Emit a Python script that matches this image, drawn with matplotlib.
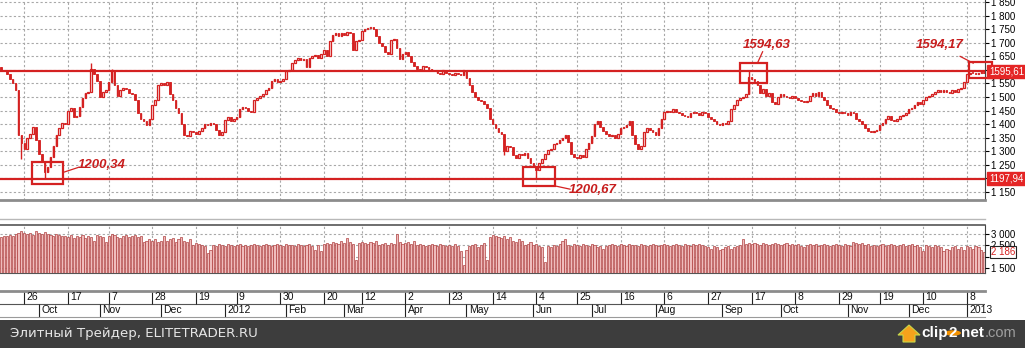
import matplotlib
matplotlib.use("Agg")
import matplotlib.pyplot as plt
import matplotlib.transforms as mtransforms
from matplotlib.patches import Rectangle, Circle, Polygon
import numpy as np
import pandas as pd

W, H = 1025, 348

# MICEX index, daily, 14.09.2011 - 16.01.2013
closes = [
    1600, 1595, 1585, 1565, 1550, 1525, 1360, 1330,
    1310, 1350, 1365, 1390, 1340, 1290, 1260, 1225, 1240, 1280, 1320, 1360, 1385, 1405, 1400,
    1450, 1460, 1425, 1430, 1465, 1495, 1515, 1520, 1605, 1585, 1560, 1500, 1520, 1525, 1555,
    1595, 1545, 1505, 1525, 1535, 1530, 1515, 1510, 1490, 1440, 1420, 1410, 1395, 1420,
    1470, 1490, 1545, 1550, 1545, 1555, 1510, 1490, 1460, 1440, 1400, 1360, 1355, 1375, 1370,
    1365, 1375, 1385, 1400, 1395, 1405, 1400, 1380, 1360, 1370, 1415, 1425, 1410, 1420,
    1425, 1455, 1465, 1460, 1450, 1445, 1490, 1495, 1505, 1510, 1525, 1535, 1560, 1565, 1555,
    1560, 1565, 1595, 1600, 1625, 1635, 1645, 1635, 1640, 1610, 1645, 1650, 1655, 1645, 1660,
    1675, 1650, 1705, 1730, 1735, 1725, 1735, 1730, 1740, 1735, 1675, 1705, 1710,
    1745, 1750, 1755, 1760, 1750, 1725, 1700, 1690, 1665, 1660, 1710, 1715, 1680, 1640, 1660,
    1665, 1650, 1630, 1615, 1605, 1600, 1615, 1610, 1605, 1600, 1595, 1590, 1585, 1600, 1590,
    1585, 1580, 1590, 1585, 1580, 1600, 1570, 1545, 1520, 1500, 1490, 1485, 1475, 1460, 1420,
    1400, 1385, 1370, 1365, 1300, 1320, 1315, 1285, 1275, 1290, 1285, 1295, 1275, 1255, 1240,
    1230, 1255, 1270, 1290, 1305, 1310, 1325, 1330, 1340, 1350, 1360, 1335, 1290, 1280,
    1275, 1285, 1280, 1310, 1330, 1355, 1400, 1410, 1390, 1375, 1365, 1355, 1360, 1350, 1365,
    1385, 1390, 1395, 1410, 1360, 1325, 1310, 1320, 1370, 1385, 1380, 1370, 1360, 1385, 1420,
    1445, 1450, 1445, 1455, 1445, 1440, 1435, 1430, 1425, 1440, 1445, 1440, 1435, 1445, 1440,
    1425, 1420, 1410, 1400, 1395, 1405, 1400, 1410, 1455, 1470, 1490, 1495, 1500, 1510, 1575,
    1565, 1560, 1545, 1515, 1530, 1505, 1515, 1480, 1475, 1500, 1510, 1505, 1500, 1495, 1505,
    1495, 1490, 1485, 1480, 1485, 1505, 1515, 1505, 1520, 1500, 1490, 1470, 1460, 1455, 1445,
    1440, 1445, 1440, 1435, 1445, 1440, 1420, 1410, 1400, 1385, 1375, 1370, 1375, 1380,
    1395, 1405, 1420, 1430, 1415, 1410, 1420, 1430, 1435, 1440, 1455, 1460, 1470, 1480, 1475,
    1490, 1500, 1505, 1510, 1520, 1525, 1520, 1525, 1520, 1515, 1525, 1520, 1530, 1535, 1555,
    1585, 1590, 1588, 1586, 1590, 1592, 1590,
]
first_open = 1612
spike_lows = {7: 1270, 15: 1200.34, 184: 1200.67, 173: 1285}
spike_highs = {31: 1625, 38: 1605, 257: 1594.63, 337: 1594.17}

volumes = [
    2850, 2900, 2880, 2950, 2900, 3000, 3050, 3100,
    3050, 3000, 3050, 2950, 3100, 3050, 3000, 3080, 3000, 2950, 2900, 2980, 2950, 2900, 2880,
    2850, 2950, 2800, 2900, 2850, 2950, 2800, 2900, 2850, 2700, 2950, 2900, 2850, 2650, 2900,
    3000, 2950, 2850, 2800, 2900, 2950, 2850, 2900, 2950, 2850, 2900, 2650, 2700, 2750,
    2700, 2750, 2650, 2700, 2900, 2700, 2750, 2800, 2650, 2750, 2850, 2700, 2650, 2750, 2500,
    2600, 2550, 2500, 2450, 2150, 2300, 2500, 2450, 2550, 2500, 2450, 2550, 2500, 2450,
    2500, 2550, 2450, 2500, 2450, 2500, 2550, 2500, 2450, 2500, 2550, 2500, 2450, 2500, 2550,
    2500, 2450, 2550, 2500, 2500, 2450, 2550, 2500, 2450, 2500, 2550, 2450, 2300, 2500, 2250,
    2550, 2600, 2550, 2650, 2600, 2550, 2700, 2600, 2800, 2650, 2550, 1850, 2600,
    2650, 2600, 2550, 2650, 2600, 2700, 2500, 2550, 2600, 2500, 2600, 2550, 3000, 2650, 2550,
    2600, 2650, 2550, 2700, 2500, 2550, 2500, 2450, 2500, 2550, 2500, 2450, 2550, 2500, 2450,
    2500, 2450, 2550, 2450, 2250, 1650, 2300, 2450, 2500, 2550, 2400, 2500, 2600, 1850, 2850,
    2950, 2900, 2850, 2800, 2900, 2750, 2850, 2700, 2650, 2750, 2700, 2500, 2550, 2650, 2500,
    2550, 2450, 2400, 1750, 2450, 2400, 2500, 2450, 2550, 2700, 2750, 2500, 2450, 2550,
    2500, 2450, 2550, 2500, 2450, 2550, 2500, 2400, 2450, 2350, 2450, 2500, 2550, 2500, 2450,
    2550, 2500, 2450, 2550, 2500, 2500, 2450, 2550, 2500, 2450, 2500, 2550, 2500, 2450, 2500,
    2550, 2500, 2450, 2500, 2550, 2500, 2450, 2550, 2500, 2450, 2550, 2500, 2550, 2500, 2450,
    2400, 2350, 2450, 2400, 2300, 2350, 2400, 2450, 2350, 2400, 2450, 2500, 2750, 2550, 2600,
    2550, 2600, 2550, 2500, 2600, 2550, 2500, 2550, 2600, 2550, 2500, 2550, 2600, 2500, 2550,
    2500, 2550, 2450, 2400, 2500, 2550, 2500, 2550, 2450, 2500, 2550, 2500, 2450, 2500, 2550,
    2500, 2450, 2550, 2500, 2450, 2650, 2600, 2550, 2600, 2500, 2550, 2450, 2500, 2450,
    2500, 2550, 2450, 2500, 2550, 2500, 2450, 2500, 2550, 2450, 2500, 2550, 2450, 2500, 2400,
    2250, 2500, 2450, 2400, 2500, 2450, 2400, 2250, 2350, 2300, 2400, 2450, 2350, 2400, 2300,
    2450, 2400, 2350, 2450, 2400, 2300, 2186,
]

holidays = ["2011-11-04", "2012-01-02", "2012-02-23", "2012-03-08", "2012-06-12",
            "2012-11-05", "2012-12-31", "2013-01-01", "2013-01-02", "2013-01-03",
            "2013-01-04", "2013-01-07"]
day_ticks = ["2011-09-26", "2011-10-17", "2011-11-07", "2011-11-28", "2011-12-19",
             "2012-01-09", "2012-01-30", "2012-02-20", "2012-03-12", "2012-04-02",
             "2012-04-23", "2012-05-14", "2012-06-04", "2012-06-25", "2012-07-16",
             "2012-08-06", "2012-08-27", "2012-09-17", "2012-10-08", "2012-10-29",
             "2012-11-19", "2012-12-10", "2013-01-08"]
month_labels = ["Oct", "Nov", "Dec", "2012", "Feb", "Mar", "Apr", "May", "Jun", "Jul",
                "Aug", "Sep", "Oct", "Nov", "Dec", "2013"]

level_hi, level_lo = 1595.61, 1197.94

RED = "#d42121"
GRID = "#a8a8a8"

plt.rcParams["font.family"] = ["Liberation Sans", "DejaVu Sans"]

dates = pd.bdate_range("2011-09-14", "2013-01-16")
dates = dates[~dates.isin(pd.to_datetime(holidays))]
pos = pd.Series(np.arange(len(dates)), index=dates)
assert len(dates) == len(closes) == len(volumes)

tick_pos = [pos[pd.Timestamp(d)] for d in day_ticks]
tick_txt = [str(pd.Timestamp(d).day) for d in day_ticks]
month_pos = [i for i in range(1, len(dates)) if dates[i].month != dates[i - 1].month]

c = np.array(closes, float)
o = np.r_[first_open, c[:-1]]
hi = np.maximum(o, c)
lo = np.minimum(o, c)
for k, v in spike_lows.items():
    lo[k] = v
for k, v in spike_highs.items():
    hi[k] = v
x = np.arange(len(c))


def frac(x0, y0, x1, y1):
    return [x0 / W, 1 - y1 / H, (x1 - x0) / W, (y1 - y0) / H]


def fmt(v):
    return f"{v:,}".replace(",", " ")


fig = plt.figure(figsize=(W / 100, H / 100), dpi=100)
fig.patch.set_facecolor("white")
XL = (-0.354, 338.25)

# ---------------- price panel
ax = fig.add_axes(frac(0, 0, 985, 200))
ax.set_xlim(*XL)
ax.set_ylim(1120, 1858)
levels = list(range(1150, 1851, 50))
ax.set_yticks(levels)
# 1 200 and 1 600 sit under the level boxes on the original
ax.set_yticklabels(["" if v in (1200, 1600) else fmt(v) for v in levels])
ax.yaxis.tick_right()
ax.tick_params(axis="y", direction="out", length=3, width=0.8, pad=1, labelsize=7)
ax.set_xticks(tick_pos)
ax.tick_params(axis="x", length=0, labelbottom=False)
ax.grid(True, color=GRID, linestyle=(0, (2, 2)), linewidth=0.8)
ax.set_axisbelow(True)
for s in ("left", "top"):
    ax.spines[s].set_visible(False)
ax.spines["bottom"].set_color("#8c8c8c")
ax.spines["bottom"].set_linewidth(2)
ax.spines["right"].set_color("#444444")
ax.spines["right"].set_linewidth(0.8)

up = c >= o
bottom = np.minimum(o, c)
body_h = np.maximum(np.abs(c - o), 2.5)
ax.vlines(x, lo, hi, color=RED, linewidth=1.0, zorder=3)
ax.bar(x[up], body_h[up], bottom=bottom[up], width=0.55,
       facecolor="#fbe3e3", edgecolor=RED, linewidth=0.9, zorder=4)
ax.bar(x[~up], body_h[~up], bottom=bottom[~up], width=0.55,
       facecolor=RED, edgecolor=RED, linewidth=0.6, zorder=4)

ax.axhline(level_hi, color=RED, linewidth=1.6, zorder=5)
ax.axhline(level_lo, color=RED, linewidth=1.6, zorder=5)

yt = mtransforms.blended_transform_factory(ax.transAxes, ax.transData)
for val, txt in ((level_hi, "1595,61"), (level_lo, "1197,94")):
    ax.text(1.004, val, txt, transform=yt, ha="left", va="center", fontsize=7,
            color="white", clip_on=False, zorder=10,
            bbox=dict(boxstyle="square,pad=0.15", facecolor="#e42525", edgecolor="#e42525"))

# marked extremes
boxes = [(10.7, 1178, 21.3, 1262), (179.3, 1171, 190.4, 1241),
         (254.0, 1551, 263.3, 1627), (332.7, 1570, 340.7, 1629)]
for x0, y0, x1, y1 in boxes:
    ax.add_patch(Rectangle((x0, y0), x1 - x0, y1 - y0, fill=False, edgecolor=RED,
                           linewidth=1.6, clip_on=False, zorder=8))
notes = [("1200,34", 26.5, 1248, (21.4, 1222), (26.5, 1240)),
         ("1200,67", 195.3, 1157, (190.4, 1172), (195.6, 1160)),
         ("1594,63", 255.0, 1692, (260.1, 1627), (261.8, 1667)),
         ("1594,17", 314.5, 1692, (334.2, 1625), (329.7, 1650))]
for txt, tx, ty, p0, p1 in notes:
    ax.text(tx, ty, txt, fontsize=9.5, fontweight="bold", fontstyle="italic",
            color="#c81e1e", ha="left", va="center", zorder=9, clip_on=False)
    ax.plot([p0[0], p1[0]], [p0[1], p1[1]], color=RED, linewidth=0.9, zorder=8, clip_on=False)

# ---------------- volume panel
axv = fig.add_axes(frac(0, 225, 985, 272.5))
axv.set_xlim(*XL)
axv.set_ylim(1300, 3380)
axv.bar(x, volumes, bottom=0, width=0.72, facecolor="#efbcbc", edgecolor="#b04040",
        linewidth=0.5, zorder=3)
axv.set_yticks([1500, 2000, 2500, 3000])
axv.set_yticklabels(["1 500", "", "2 500", "3 000"])
axv.yaxis.tick_right()
axv.tick_params(axis="y", direction="out", length=3, width=0.8, pad=1, labelsize=7)
axv.set_xticks(tick_pos)
axv.tick_params(axis="x", length=0, labelbottom=False)
axv.grid(True, color=GRID, linestyle=(0, (2, 2)), linewidth=0.8)
axv.set_axisbelow(False)
axv.spines["left"].set_visible(False)
axv.spines["top"].set_color("#555555")
axv.spines["top"].set_linewidth(1.2)
axv.spines["bottom"].set_color("#555555")
axv.spines["right"].set_color("#444444")
axv.spines["right"].set_linewidth(0.8)
vt = mtransforms.blended_transform_factory(axv.transAxes, axv.transData)
axv.text(1.006, volumes[-1], fmt(volumes[-1]), transform=vt,
         ha="left", va="center", fontsize=7, color=RED, clip_on=False, zorder=10,
         bbox=dict(boxstyle="square,pad=0.1", facecolor="white", edgecolor="#222222",
                   linewidth=0.8))

fig.add_artist(plt.Line2D([0, 985 / W], [1 - 219 / H] * 2, color="#b8b8b8", linewidth=1))

# ---------------- date scale
axd = fig.add_axes(frac(0, 290.5, 985, 317))
axd.set_xlim(*XL)
axd.set_ylim(0, 2)
axd.set_xticks([])
axd.set_yticks([])
for s in ("left", "right"):
    axd.spines[s].set_visible(False)
axd.spines["top"].set_color("#8c8c8c")
axd.spines["top"].set_linewidth(2)
axd.spines["bottom"].set_color("#9a9a9a")
axd.axhline(1, color="#555555", linewidth=0.8)
axd.vlines(tick_pos, 1, 2, color="#222222", linewidth=0.8)
axd.vlines(month_pos, 0, 1, color="#222222", linewidth=0.8)
for p, t in zip(tick_pos, tick_txt):
    axd.text(p + 0.8, 1.5, t, fontsize=7.5, ha="left", va="center", color="#111111")
for p, t in zip(month_pos, month_labels):
    axd.text(p + 0.8, 0.5, t, fontsize=7.5, ha="left", va="center", color="#111111",
             clip_on=False)

# ---------------- footer
fig.add_artist(Rectangle((0, 0), 1, 28 / H, transform=fig.transFigure,
                         facecolor="#3d3d3d", edgecolor="none"))
fig.text(10 / W, 1 - 334 / H, "Элитный Трейдер, ELITETRADER.RU", fontsize=9.6,
         family="DejaVu Sans", color="#e6e6e6", ha="left", va="center")
arrow = [(903, 342), (903, 335), (898, 335), (909, 325), (920, 335), (915, 335), (915, 342)]
fig.add_artist(Polygon([(px / W, 1 - py / H) for px, py in arrow], closed=True,
                       transform=fig.transFigure, facecolor="#f5a21c", edgecolor="#c8d84a",
                       linewidth=0.8))
fig.add_artist(Circle((953 / W, 1 - 333 / H), 8 / W, transform=fig.transFigure,
                      facecolor="#f39200", edgecolor="none"))
ly = 1 - 333 / H
fig.text(921 / W, ly, "clip", fontsize=11, fontweight="bold", color="white",
         ha="left", va="center")
fig.text(953 / W, ly, "2", fontsize=11, fontweight="bold", color="white",
         ha="center", va="center")
fig.text(961 / W, ly, "net", fontsize=11, fontweight="bold", color="white",
         ha="left", va="center")
fig.text(985 / W, ly, ".com", fontsize=10.5, color="#a0a0a0", ha="left", va="center")

fig.savefig("out.png", dpi=100)
